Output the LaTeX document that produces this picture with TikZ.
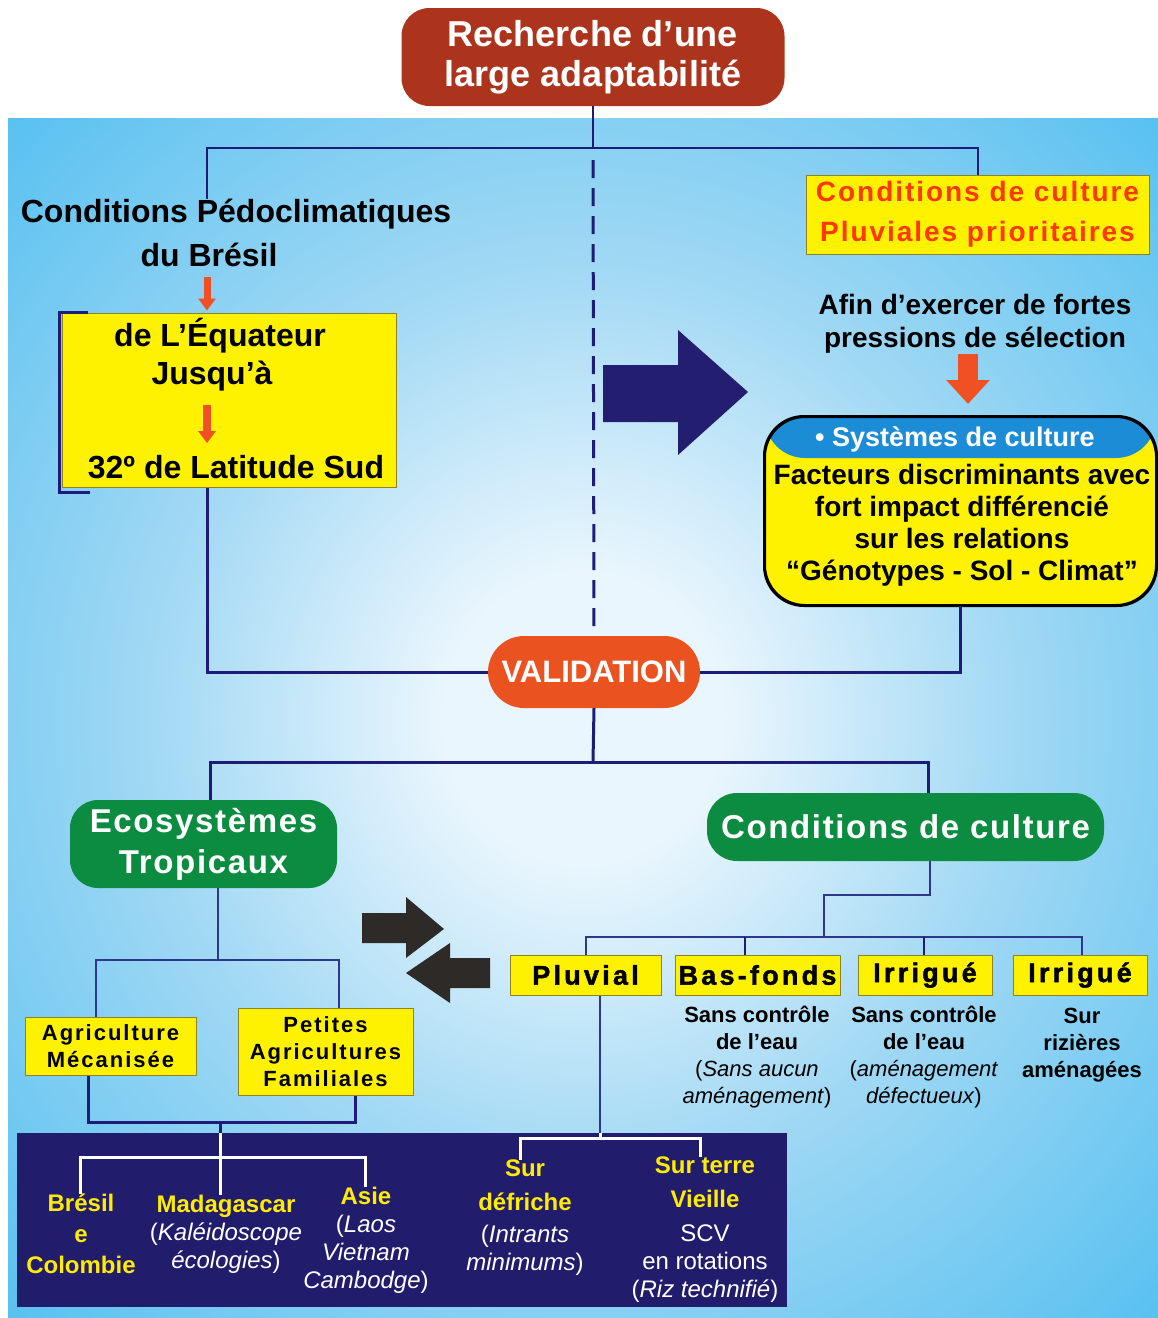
\documentclass[tikz,border=0pt]{standalone}
\usepackage{fontspec}
\setmainfont{Liberation Sans}
\newfontfamily\trackA{Liberation Sans}[LetterSpace=5]
\newfontfamily\trackB{Liberation Sans}[LetterSpace=7]
\newfontfamily\trackC{Liberation Sans}[LetterSpace=9]
\newfontfamily\trackD{Liberation Sans}[LetterSpace=12,FakeBold=1.6]
\usetikzlibrary{arrows.meta}

\newcommand\setfs[2]{\fontsize{#1}{#2}\selectfont}

\definecolor{titlered}{RGB}{172,52,28}
\definecolor{validred}{RGB}{234,82,32}
\definecolor{grn}{RGB}{12,140,64}
\definecolor{yel}{RGB}{255,242,0}
\definecolor{yedge}{RGB}{140,130,40}
\definecolor{navy}{RGB}{30,28,120}
\definecolor{thinnavy}{RGB}{45,55,140}
\definecolor{arrnavy}{RGB}{36,30,112}
\definecolor{darkbox}{RGB}{33,28,108}
\definecolor{redarr}{RGB}{240,80,35}
\definecolor{redtxt}{RGB}{255,55,0}
\definecolor{band}{RGB}{28,140,215}
\definecolor{greyarr}{RGB}{46,42,40}
\definecolor{ylw}{RGB}{255,236,0}
\definecolor{bgout}{RGB}{86,192,240}
\definecolor{bgmid}{RGB}{160,216,244}
\definecolor{bgin}{RGB}{234,246,253}

\pgfdeclareradialshading{bgglow}{\pgfpoint{0bp}{0bp}}{color(0bp)=(bgin); color(6bp)=(bgin); color(19bp)=(bgmid); color(36bp)=(bgout); color(80bp)=(bgout)}

\begin{document}
\begin{tikzpicture}[x=1pt,y=-1pt,
  conn/.style={draw=navy, line width=3pt},
  topconn/.style={draw=navy, line width=2pt},
  thinconn/.style={draw=thinnavy, line width=1.6pt},
  wconn/.style={draw=white, line width=3pt},
  dashline/.style={draw=navy, line width=3pt, dash pattern=on 18pt off 10pt},
  redarrow/.style={draw=redarr, line width=7pt, -{Triangle[width=17pt,length=12pt]}},
  bigredarrow/.style={draw=redarr, line width=20pt, -{Triangle[width=42pt,length=24pt]}},
  txt/.style={inner sep=0pt, align=center},
  ybox/.style={draw=yedge, line width=1pt, fill=yel, inner sep=0pt, align=center},
  pill/.style={inner sep=0pt, align=center, text=white},
  catbox/.style={ybox, minimum height=40pt, font={\setfs{27}{30}\trackD\bfseries}},
]
\useasboundingbox (0,0) rectangle (1158,1318);
\fill[white] (0,0) rectangle (1158,1318);
\shade[shading=bgglow] (8,118) rectangle (1158,1318);

% ---------- top ----------
\node[pill, fill=titlered, rounded corners=28pt, minimum width=383pt, minimum height=98pt,
      font={\setfs{36}{40}\bfseries}] (title) at (593,57) {Recherche d’une\\large adaptabilité};

\node[txt, font={\setfs{32}{40}\bfseries}] (pedo1) at (236,214) {Conditions Pédoclimatiques};
\node[txt, font={\setfs{32}{40}\bfseries}] (pedo2) at (209,255) {du Brésil};

\node[ybox, minimum width=334pt, minimum height=174pt] (eq) at (229,400) {};
\node[txt, font={\setfs{32}{40}\bfseries}] (eq1) at (220,336) {de L’Équateur};
\node[txt, font={\setfs{32}{40}\bfseries}] (eq2) at (212,376) {Jusqu’à};
\node[txt, font={\setfs{32}{40}\bfseries}] (eq3) at (236,467) {32º de Latitude Sud};
\draw[conn, line width=2.5pt] ([xshift=26pt]eq.north west) -| ([xshift=-2pt,yshift=-5pt]eq.south west) -- ++(30,0);

\node[ybox, minimum width=343pt, minimum height=79pt, text=redtxt,
      font={\setfs{28}{40}\trackB\bfseries}] (cpl) at (977.5,214.5) {Conditions de culture\\Pluviales prioritaires};

\node[txt, font={\setfs{28}{33}\bfseries}] (afin) at (975,324) {Afin d’exercer de fortes\\pressions de sélection};

\node[draw=black, line width=2pt, fill=yel, rounded corners=40pt, minimum width=391pt,
      minimum height=188pt, inner sep=0pt,
      path picture={\fill[band] ([yshift=2pt]path picture bounding box.north west) rectangle ([yshift=-41pt]path picture bounding box.north east);}]
      (syst) at (960.5,511) {};
\draw[draw=black, line width=2pt, rounded corners=40pt] (syst.north west) rectangle (syst.south east);
\node[txt, text=white, font={\setfs{27}{32}\bfseries}] (systhead) at (955,439) {• Systèmes de culture};
\node[txt, font={\setfs{28}{32}\bfseries}] (systbody) at (962,525)
  {Facteurs discriminants avec\\fort impact différencié\\sur les relations\\“Génotypes - Sol - Climat”};

\node[pill, fill=validred, rounded corners=36pt, minimum width=212pt, minimum height=72pt,
      font={\setfs{31}{36}\bfseries}] (valid) at (594,672) {VALIDATION};

% big arrow towards the right column
\fill[arrnavy] (603,365) -- (678,365) -- (678,330) -- (748,392) -- (678,455) -- (678,422) -- (603,422) -- cycle;

% ---------- upper connectors ----------
\coordinate (jT) at (593,148);
\draw[topconn] (title.south) -- (jT);
\draw[topconn] (pedo1.north -| 207,0) |- (jT) -| (cpl.north);
\draw[dashline] (jT |- 0,160) -- ([yshift=6pt]valid.north);
\draw[redarrow, shorten <=10pt, shorten >=2pt] (pedo2.south -| 207,0) -- (eq.north -| 207,0);
\draw[redarrow, line width=8pt, shorten <=14pt, shorten >=12pt] (eq2.south -| 207,0) -- (eq3.north -| 207,0);
\draw[bigredarrow] (afin.south -| 968,0) -- ([yshift=12pt]syst.north -| 968,0);
\draw[conn] (eq.south -| 207,0) |- (valid.west);
\draw[conn] (syst.south) |- (valid.east);

% ---------- lower part ----------
\node[pill, fill=grn, rounded corners=28pt, minimum width=267pt, minimum height=88pt,
      font={\setfs{33}{41}\trackA\bfseries}] (eco) at (203.5,844) {Ecosystèmes\\Tropicaux};
\node[pill, fill=grn, rounded corners=30pt, minimum width=397pt, minimum height=68pt,
      font={\setfs{33}{41}\trackA\bfseries}] (cdc) at (905.5,827) {Conditions de culture};

\coordinate (jV) at (593,762);
\draw[conn] (valid.south) -- (jV);
\draw[conn] (eco.north -| 210,0) |- (jV) -| (cdc.north -| 928,0);

\node[ybox, minimum width=171pt, minimum height=58pt, font={\setfs{22}{27}\trackC\bfseries}] (agri) at (110.5,1046) {Agriculture\\Mécanisée};
\node[ybox, minimum width=175pt, minimum height=87pt, font={\setfs{22}{27}\trackC\bfseries}] (petites) at (325.5,1051.5) {Petites\\Agricultures\\Familiales};

\coordinate (jE) at (218,960);
\draw[thinconn] (eco.south -| jE) -- (jE);
\draw[thinconn] (agri.north -| 96,0) |- (jE) -| (petites.north -| 339,0);

\node[catbox, minimum width=151pt] (pluv) at (585.5,975) {Pluvial};
\node[catbox, minimum width=165pt] (basf) at (757.5,975) {Bas-fonds};
\node[catbox, minimum width=134pt] (irr1) at (925,975) {Irrigué};
\node[catbox, minimum width=134pt] (irr2) at (1080,975) {Irrigué};

\coordinate (jD) at (824,895);
\coordinate (jF) at (824,937);
\draw[thinconn] (cdc.south -| 930,0) |- (jD) -- (jF);
\draw[thinconn] (pluv.north -| 586,0) |- (jF) -| (irr2.north -| 1082,0);
\draw[conn, line width=2.2pt] (basf.north -| 745,0) -- ++(0,-18);
\draw[conn, line width=2.2pt] (irr1.north -| 924,0) -- ++(0,-18);

\node[txt, font={\setfs{22}{27}}] (basd) at (757,1057)
  {\textbf{Sans contrôle}\\\textbf{de l’eau}\\(\textit{Sans aucun}\\\textit{aménagement})};
\node[txt, font={\setfs{22}{27}}] (irrd) at (924,1057)
  {\textbf{Sans contrôle}\\\textbf{de l’eau}\\(\textit{aménagement}\\\textit{défectueux})};
\node[txt, font={\setfs{22}{27}\bfseries}] (irr2d) at (1082,1045) {Sur\\rizières\\aménagées};

% grey double arrow between the two branches
\fill[greyarr] (362,913) -- (406,913) -- (406,897) -- (444,929) -- (406,958) -- (406,943) -- (362,943) -- cycle;
\fill[greyarr] (490,958) -- (450,958) -- (450,943) -- (406,973) -- (450,1003) -- (450,988) -- (490,988) -- cycle;

% ---------- dark panel ----------
\node[fill=darkbox, minimum width=770pt, minimum height=174pt, inner sep=0pt] (dark) at (402,1220) {};

\coordinate (jA) at (220,1122);
\draw[conn] (agri.south -| 88,0) |- (jA) -| (petites.south -| 355,0);
\draw[conn] (jA) -- (dark.north -| jA);
\draw[thinconn] (pluv.south -| 600,0) -- (dark.north -| 600,0);

\node[txt, text=ylw, font={\setfs{24}{28}\bfseries}] (bres) at (81,1234) {Brésil\\[3pt]e\\[3pt]Colombie};
\node[txt, text=white, font={\setfs{24}{28}}] (mada) at (226,1234)
  {\textcolor{ylw}{\textbf{Madagascar}}\\(\textit{Kaléidoscope}\\\textit{écologies})};
\node[txt, text=white, font={\setfs{24}{28}}] (asie) at (366,1240)
  {\textcolor{ylw}{\textbf{Asie}}\\(\textit{Laos}\\\textit{Vietnam}\\\textit{Cambodge})};
\node[txt, text=white, font={\setfs{24}{28}}] (sur) at (525,1218)
  {\textcolor{ylw}{\textbf{Sur}}\\[6pt]\textcolor{ylw}{\textbf{défriche}}\\[4pt](\textit{Intrants}\\\textit{minimums})};
\node[txt, text=white, font={\setfs{24}{28}}] (surt) at (705,1230)
  {\textcolor{ylw}{\textbf{Sur terre}}\\[6pt]\textcolor{ylw}{\textbf{Vieille}}\\[6pt]SCV\\en rotations\\(\textit{Riz technifié})};

\coordinate (jB) at (220,1157);
\coordinate (jC) at (600,1138);
\draw[wconn] (dark.north -| jA) -- (mada.north -| jA);
\draw[wconn] (bres.north -| 80,0) |- (jB) -| (asie.north -| 365,0);
\draw[wconn] (dark.north -| jC) -- (jC);
\draw[wconn] (sur.north -| 520,0) |- (jC) -| (surt.north -| 700,0);
\end{tikzpicture}
\end{document}
